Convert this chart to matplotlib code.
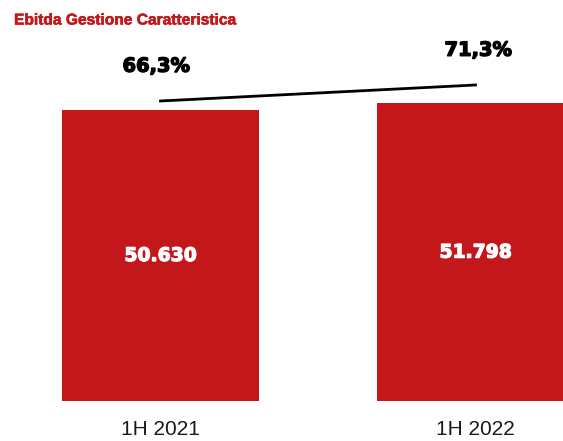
import matplotlib
matplotlib.use("Agg")
import matplotlib.pyplot as plt
import matplotlib.patheffects as pe

# Ebitda gestione caratteristica, 1H 2021 vs 1H 2022
periods = ['1H 2021', '1H 2022']
ebitda = [50630, 51798]
ebitda_labels = ['50.630', '51.798']
margin = [66.3, 71.3]
margin_labels = ['66,3%', '71,3%']

red = '#C3171B'
W, H = 563, 441

fig = plt.figure(figsize=(W/100, H/100), dpi=100)
ax = fig.add_axes([0, 40/H, 1, 401/H])
x = [0, 1]
ax.bar(x, ebitda, width=0.625, color=red)
ax.set_xlim(-0.5095, 1.2778)
ax.set_ylim(0, 69770)
for i, v in enumerate(ebitda):
    ax.text(x[i], v/2, ebitda_labels[i], ha='center', va='center',
            color='white', fontsize=13.5, fontweight='bold', family='DejaVu Sans',
            path_effects=[pe.withStroke(linewidth=0.9, foreground='white')])

ax.set_xticks(x)
ax.set_xticklabels(periods, fontsize=15, family='Liberation Sans', color='#1a1a1a')
ax.tick_params(axis='x', length=0, pad=14)
ax.set_yticks([])
for s in ax.spines.values():
    s.set_visible(False)

# margin line on its own scale
ax2 = ax.twinx()
ax2.plot(x, margin, color='black', lw=2)
ax2.set_ylim(-27.45, 97.86)
ax2.set_yticks([])
for s in ax2.spines.values():
    s.set_visible(False)
for i, p in enumerate(margin):
    ax2.annotate(margin_labels[i], (x[i], p), xytext=(-3 if i == 0 else 2, 25),
                 textcoords='offset points', ha='center', va='center',
                 fontsize=14, fontweight='bold', family='DejaVu Sans',
                 path_effects=[pe.withStroke(linewidth=1.0, foreground='black')])

fig.text(14/W, 1 - 20/H, 'Ebitda Gestione Caratteristica', color=red,
         fontsize=11.2, fontweight='bold', family='Liberation Sans',
         ha='left', va='center',
         path_effects=[pe.withStroke(linewidth=0.4, foreground=red)])

fig.savefig('out.png', dpi=100)
